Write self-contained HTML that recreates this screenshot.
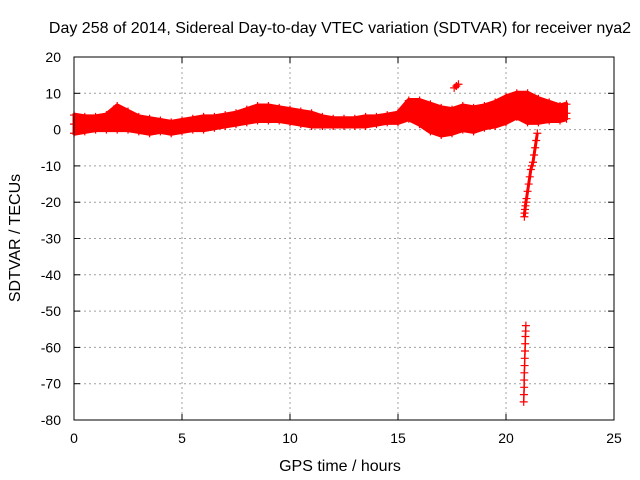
<!DOCTYPE html>
<html><head><meta charset="utf-8"><style>
body{margin:0;background:#fff}
svg{display:block;font-family:"Liberation Sans",sans-serif}
</style></head><body>
<svg id="chart" width="640" height="480" viewBox="0 0 640 480">
<rect width="640" height="480" fill="#fff"/>
<text x="340" y="33" font-size="16" text-anchor="middle">Day 258 of 2014, Sidereal Day-to-day VTEC variation (SDTVAR) for receiver nya2</text>
<text x="340" y="471" font-size="16" text-anchor="middle">GPS time / hours</text>
<text transform="translate(20,238) rotate(-90)" font-size="16" text-anchor="middle">SDTVAR / TECUs</text>
<g id="grid"></g>
<g id="ticks"></g>
<g id="series"></g>
<rect x="74" y="57" width="540" height="363" fill="none" stroke="#000" stroke-width="1"/>
</svg>
<script>
const xTicks=[0,5,10,15,20,25];
const yTicks=[20,10,0,-10,-20,-30,-40,-50,-60,-70,-80];
const times=[0,0.5,1,1.5,2,2.5,3,3.5,4,4.5,5,5.5,6,6.5,7,7.5,8,8.5,9,9.5,10,10.5,11,11.5,12,12.5,13,13.5,14,14.5,15,15.5,16,16.5,17,17.5,18,18.5,19,19.5,20,20.5,21,21.5,22,22.5,22.8];
const highVals=[4,3.5,3.5,4,6.5,5,3.5,3,2.5,2,2.5,3,3.5,3.5,4,4.5,5.5,6.5,6.5,6,5.5,5,4.5,3.5,3,3,3,3.5,3.5,4,4.5,8,8,7,6,5.5,6.5,6,6.5,7.5,9,10,10,8.5,7.5,6.5,7];
const midVals=[1.5,2,1.5,1,3,2,1,0.5,1,0.5,1.5,2,1.5,2,2.5,3,3.5,4,4.5,4,3.5,4,3,2,2,2,1.5,2,2.5,3,3,5,5,3,2.5,3,3,3,2.5,3,5,6,6,4,4,4,4.5];
const lowVals=[-1,-0.5,0,0,0,0,-0.5,-1,-0.5,-1,-0.5,0,0,0.5,1,1.5,2,2.5,2.5,2.5,2,1.5,1,1,1,1,1,1,1.5,2,2,3,1.5,-0.5,-1.5,-1,0,-0.5,0.5,1,2,3.5,2,2,2.5,2.5,3];
const dropTimes=[21.45,21.4,21.35,21.3,21.25,21.2,21.15,21.1,21.05,21.0,20.95,20.92,20.9,20.88,20.86,20.85];
const dropVals=[-1,-3,-5,-7,-9,-10,-11,-13,-15,-17,-19,-20,-21,-22,-23,-24];
const deepTimes=[20.92,20.91,20.9,20.89,20.88,20.87,20.86,20.85,20.84,20.84,20.83,20.82];
const deepVals=[-54,-55.5,-57,-59,-61,-63,-65,-67,-69,-71,-73,-75];
const blobTimes=[17.6,17.7,17.8];
const blobVals=[11.5,12,12.5];

const X0=74,X1=614,Y0=420,Y1=57;
const sx=t=>X0+(t-0)/(25-0)*(X1-X0);
const sy=v=>Y0-(v+80)/(100)*(Y0-Y1);
const NS='http://www.w3.org/2000/svg';
function mk(tag,attrs,parent){const e=document.createElementNS(NS,tag);for(const k in attrs)e.setAttribute(k,attrs[k]);parent.appendChild(e);return e;}
const grid=document.getElementById('grid'),ticks=document.getElementById('ticks'),series=document.getElementById('series');
xTicks.forEach(t=>{
  const x=sx(t);
  if(t>0&&t<25){const g=mk('line',{x1:x,x2:x,y1:Y1,y2:Y0,stroke:'#a0a0a0','stroke-dasharray':'2,3'},grid);
  
  }
  mk('line',{x1:x,x2:x,y1:Y0,y2:Y0-6,stroke:'#000'},ticks);
  mk('line',{x1:x,x2:x,y1:Y1,y2:Y1+6,stroke:'#000'},ticks);
  const l=mk('text',{x:x,y:443,'font-size':14,'text-anchor':'middle'},ticks);l.textContent=t;
  
  
});
yTicks.forEach(v=>{
  const y=sy(v);
  if(v<20&&v>-80){const g=mk('line',{x1:X0,x2:X1,y1:y,y2:y,stroke:'#a0a0a0','stroke-dasharray':'2,3'},grid);
  
  }
  mk('line',{x1:X0,x2:X0+6,y1:y,y2:y,stroke:'#000'},ticks);
  mk('line',{x1:X1,x2:X1-6,y1:y,y2:y,stroke:'#000'},ticks);
  const l=mk('text',{x:61,y:y+5,'font-size':14,'text-anchor':'end'},ticks);l.textContent=v;
  
  
});
let pts=times.map((t,i)=>sx(t)+','+sy(highVals[i]));
for(let i=times.length-1;i>=0;i--)pts.push(sx(times[i])+','+sy(lowVals[i]));
const band=mk('polygon',{points:pts.join(' '),fill:'#ff0000',stroke:'#ff0000','stroke-width':3},series);


function track(ts,vs,name,w){
  const pl=mk('polyline',{points:ts.map((t,i)=>sx(t)+','+sy(vs[i])).join(' '),fill:'none',stroke:'#ff0000','stroke-width':w,'stroke-linejoin':'round'},series);
  
  
  ts.forEach((t,i)=>{
    const x=sx(t),y=sy(vs[i]);
    const p=mk('path',{d:`M${x-4},${y}H${x+4}M${x},${y-4}V${y+4}`,stroke:'#ff0000','stroke-width':1.2},series);
    
    
  });
}
track(times,highVals,'high-track',5);
track(times,midVals,'mid-track',5);
track(times,lowVals,'low-track',5);
track(dropTimes,dropVals,'drop-track',3);
track(deepTimes,deepVals,'deep-track',1.5);
track(blobTimes,blobVals,'blob-track',5);
</script>
</body></html>
